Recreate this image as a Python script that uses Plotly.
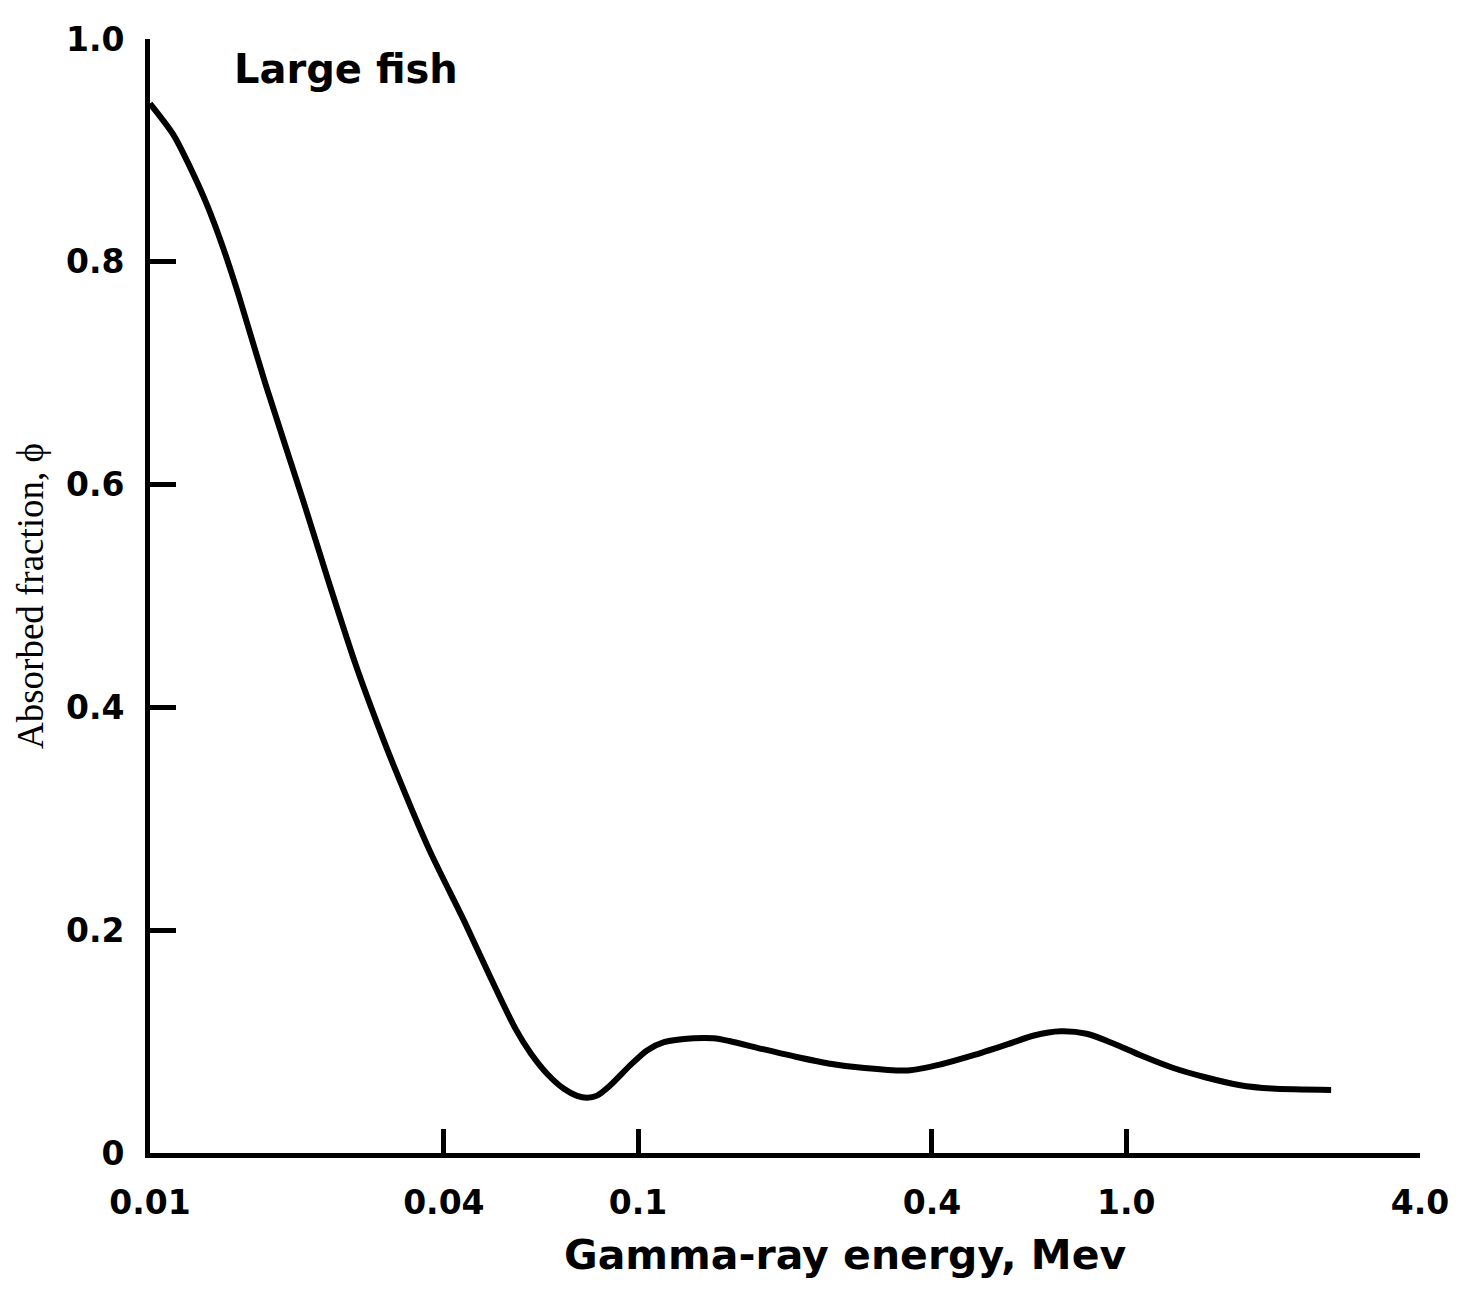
import math
import plotly.graph_objects as go

# Data (Gamma-ray energy in MeV, absorbed fraction)
energy_mev = [0.01, 0.01117, 0.01208, 0.01306, 0.01403, 0.01517, 0.01722, 0.02055,
              0.02322, 0.02636, 0.02939, 0.03162, 0.03727, 0.04416, 0.04955,
              0.0561, 0.0603, 0.06524, 0.0706, 0.0750, 0.0786, 0.0824, 0.0876, 0.0963,
              0.1043, 0.113, 0.130, 0.1428, 0.1538, 0.1803, 0.2104, 0.2455, 0.2877,
              0.3567, 0.4184, 0.4887, 0.5706, 0.6474, 0.7345, 0.8297, 0.9415,
              1.067, 1.245, 1.452, 1.702, 1.986, 2.63]
absorbed_fraction = [0.942, 0.914, 0.885, 0.852, 0.816, 0.771, 0.691, 0.587,
                     0.513, 0.439, 0.3825, 0.347, 0.273, 0.207, 0.160,
                     0.1114, 0.0893, 0.0707, 0.0574, 0.0513, 0.0496, 0.0515, 0.0605, 0.0786,
                     0.0921, 0.0995, 0.1030, 0.1030, 0.1005, 0.0932, 0.0864, 0.0804, 0.0765,
                     0.0741, 0.0797, 0.0880, 0.0975, 0.1055, 0.1092, 0.107, 0.0983,
                     0.0879, 0.0765, 0.068, 0.0611, 0.0578, 0.0566]

x_tickvals = [0.01, 0.04, 0.1, 0.4, 1.0, 4.0]
x_ticktext = ["0.01", "0.04", "0.1", "0.4", "1.0", "4.0"]
y_tickvals = [0, 0.2, 0.4, 0.6, 0.8, 1.0]
y_ticktext = ["0", "0.2", "0.4", "0.6", "0.8", "1.0"]

fig = go.Figure()
fig.add_trace(go.Scatter(
    x=energy_mev, y=absorbed_fraction, mode="lines",
    line=dict(color="black", width=6, shape="spline", smoothing=0.8),
    showlegend=False, hoverinfo="skip"))

tickfont = dict(family="DejaVu Sans", size=33, color="black", weight="bold")

fig.update_layout(
    width=1469, height=1293,
    margin=dict(l=142, r=57, t=22, b=148),
    paper_bgcolor="white", plot_bgcolor="white",
    xaxis=dict(type="log", range=[-2, math.log10(4.0)],
               tickvals=x_tickvals, ticktext=x_ticktext,
               ticks="inside", ticklen=24, tickwidth=5, tickcolor="black",
               showline=True, linecolor="black", linewidth=5,
               showgrid=False, zeroline=False, tickfont=tickfont,
               ticklabelstandoff=16),
    yaxis=dict(range=[0, 1.0],
               tickvals=y_tickvals, ticktext=y_ticktext,
               ticks="inside", ticklen=26, tickwidth=5, tickcolor="black",
               showline=True, linecolor="black", linewidth=5,
               showgrid=False, zeroline=False, tickfont=tickfont,
               ticklabelstandoff=14,
               title=dict(text="Absorbed fraction, \u03d5",
                          font=dict(family="Liberation Serif", size=37, color="black"),
                          standoff=12)),
    annotations=[
        dict(text="Large fish", xref="paper", yref="y",
             x=(232 - 150) / 1270, y=0.973, xanchor="left", yanchor="middle",
             showarrow=False,
             font=dict(family="DejaVu Sans", size=40, color="black", weight="bold")),
        dict(text="Gamma-ray energy, Mev", xref="paper", yref="paper",
             x=(845 - 150) / 1270, y=0, yshift=-102, xanchor="center", yanchor="middle",
             showarrow=False,
             font=dict(family="DejaVu Sans", size=41, color="black", weight="bold")),
    ],
)

fig.write_html("out.html")
